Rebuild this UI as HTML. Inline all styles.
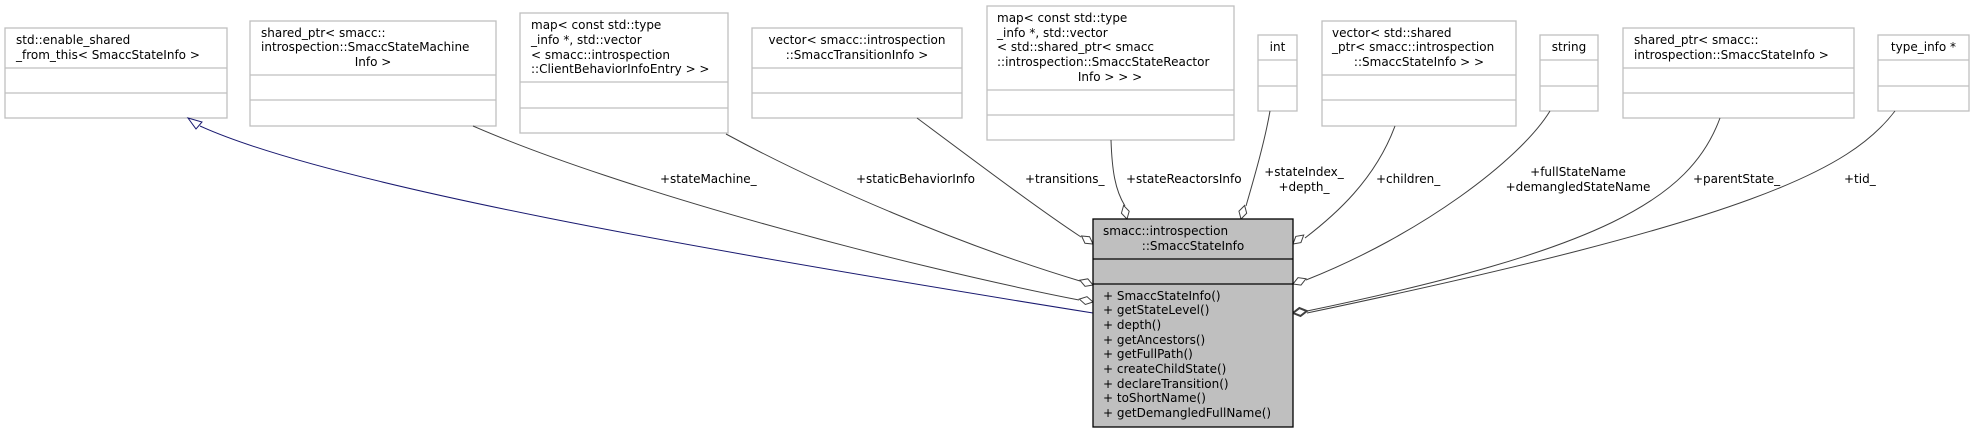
<!DOCTYPE html>
<html><head><meta charset="utf-8"><style>
html,body{margin:0;padding:0;background:#fff;}
svg{display:block;}
text{font-family:"DejaVu Sans","Liberation Sans",sans-serif;font-size:12px;fill:#000;}
.b{fill:#fff;stroke:#bfbfbf;stroke-width:1.3;}
.l{stroke:#bfbfbf;stroke-width:1.3;}
.e{fill:none;stroke:#404040;stroke-width:1;}
.d{fill:#fff;stroke:#404040;stroke-width:1;}
</style></head><body>
<svg width="1975" height="433" viewBox="0 0 1975 433" xmlns="http://www.w3.org/2000/svg">
<!-- Box1 -->
<rect class="b" x="5" y="28" width="222" height="90"/>
<line class="l" x1="5" y1="68" x2="227" y2="68"/><line class="l" x1="5" y1="93" x2="227" y2="93"/>
<text x="16" y="44">std::enable_shared</text>
<text x="16" y="59">_from_this&lt; SmaccStateInfo &gt;</text>
<!-- Box2 -->
<rect class="b" x="250" y="21" width="246" height="105"/>
<line class="l" x1="250" y1="75" x2="496" y2="75"/><line class="l" x1="250" y1="100" x2="496" y2="100"/>
<text x="261" y="37">shared_ptr&lt; smacc::</text>
<text x="261" y="51">introspection::SmaccStateMachine</text>
<text x="373" y="66" text-anchor="middle">Info &gt;</text>
<!-- Box3 -->
<rect class="b" x="520" y="13" width="208" height="120"/>
<line class="l" x1="520" y1="82" x2="728" y2="82"/><line class="l" x1="520" y1="108" x2="728" y2="108"/>
<text x="531" y="29">map&lt; const std::type</text>
<text x="531" y="44">_info *, std::vector</text>
<text x="531" y="59">&lt; smacc::introspection</text>
<text x="531" y="73">::ClientBehaviorInfoEntry &gt; &gt;</text>
<!-- Box4 -->
<rect class="b" x="752" y="28" width="210" height="90"/>
<line class="l" x1="752" y1="68" x2="962" y2="68"/><line class="l" x1="752" y1="93" x2="962" y2="93"/>
<text x="857" y="44" text-anchor="middle">vector&lt; smacc::introspection</text>
<text x="857" y="59" text-anchor="middle">::SmaccTransitionInfo &gt;</text>
<!-- Box5 -->
<rect class="b" x="987" y="6" width="247" height="134"/>
<line class="l" x1="987" y1="90" x2="1234" y2="90"/><line class="l" x1="987" y1="115" x2="1234" y2="115"/>
<text x="997" y="22">map&lt; const std::type</text>
<text x="997" y="37">_info *, std::vector</text>
<text x="997" y="51">&lt; std::shared_ptr&lt; smacc</text>
<text x="997" y="66">::introspection::SmaccStateReactor</text>
<text x="1110" y="81" text-anchor="middle">Info &gt; &gt; &gt;</text>
<!-- int -->
<rect class="b" x="1258" y="35" width="39" height="76"/>
<line class="l" x1="1258" y1="60" x2="1297" y2="60"/><line class="l" x1="1258" y1="86" x2="1297" y2="86"/>
<text x="1277.5" y="51" text-anchor="middle">int</text>
<!-- Box7 -->
<rect class="b" x="1322" y="21" width="194" height="105"/>
<line class="l" x1="1322" y1="75" x2="1516" y2="75"/><line class="l" x1="1322" y1="100" x2="1516" y2="100"/>
<text x="1332" y="37">vector&lt; std::shared</text>
<text x="1332" y="51">_ptr&lt; smacc::introspection</text>
<text x="1419" y="66" text-anchor="middle">::SmaccStateInfo &gt; &gt;</text>
<!-- string -->
<rect class="b" x="1540" y="35" width="58" height="76"/>
<line class="l" x1="1540" y1="60" x2="1598" y2="60"/><line class="l" x1="1540" y1="86" x2="1598" y2="86"/>
<text x="1569" y="51" text-anchor="middle">string</text>
<!-- Box9 -->
<rect class="b" x="1623" y="28" width="231" height="90"/>
<line class="l" x1="1623" y1="68" x2="1854" y2="68"/><line class="l" x1="1623" y1="93" x2="1854" y2="93"/>
<text x="1634" y="44">shared_ptr&lt; smacc::</text>
<text x="1634" y="59">introspection::SmaccStateInfo &gt;</text>
<!-- type_info -->
<rect class="b" x="1878" y="35" width="91" height="76"/>
<line class="l" x1="1878" y1="60" x2="1969" y2="60"/><line class="l" x1="1878" y1="86" x2="1969" y2="86"/>
<text x="1923.5" y="51" text-anchor="middle">type_info *</text>

<!-- Edges -->
<path d="M200,126 C330,185 700,250 1093,313" fill="none" stroke="#191970" stroke-width="1"/>
<polygon points="188,118 202,122 196,129" fill="#fff" stroke="#191970" stroke-width="1"/>
<path class="e" d="M473,126 C620,190 900,265 1079,300"/>
<path class="e" d="M726,134 C820,185 960,245 1080,281"/>
<path class="e" d="M917,118 C980,165 1040,210 1081,237"/>
<path class="e" d="M1111,140 C1112,170 1115,190 1125,206"/>
<path class="e" d="M1270,111 C1265,140 1255,175 1246,206"/>
<path class="e" d="M1395,126 C1375,180 1335,215 1305,238"/>
<path class="e" d="M1550,111 C1520,160 1420,235 1306,280"/>
<path class="e" d="M1720,118 C1690,200 1600,250 1307,311"/>
<path class="e" d="M1895,111 C1850,170 1750,220 1307,313"/>

<!-- diamonds -->
<g class="d">
<polygon transform="translate(1093,244) rotate(35)" points="0,0 -7,-4 -14,0 -7,4"/>
<polygon transform="translate(1093,285) rotate(20)" points="0,0 -7,-4 -14,0 -7,4"/>
<polygon transform="translate(1093,302) rotate(12)" points="0,0 -7,-4 -14,0 -7,4"/>
<polygon transform="translate(1127,219) rotate(76)" points="0,0 -7,-4 -14,0 -7,4"/>
<polygon transform="translate(1241,219) rotate(105)" points="0,0 -7,-4 -14,0 -7,4"/>
<polygon transform="translate(1293,244) rotate(140)" points="0,0 -7,-4 -14,0 -7,4"/>
<polygon transform="translate(1293,284) rotate(158)" points="0,0 -7,-4 -14,0 -7,4"/>
<polygon transform="translate(1293,313) rotate(172)" points="0,0 -7,-4 -14,0 -7,4" stroke-width="2"/>
</g>

<!-- labels -->
<text x="660" y="183">+stateMachine_</text>
<text x="856" y="183">+staticBehaviorInfo</text>
<text x="1025" y="183">+transitions_</text>
<text x="1126" y="183">+stateReactorsInfo</text>
<text x="1304" y="176" text-anchor="middle">+stateIndex_</text>
<text x="1304" y="191" text-anchor="middle">+depth_</text>
<text x="1376" y="183">+children_</text>
<text x="1578" y="176" text-anchor="middle">+fullStateName</text>
<text x="1578" y="191" text-anchor="middle">+demangledStateName</text>
<text x="1693" y="183">+parentState_</text>
<text x="1844" y="183">+tid_</text>

<!-- Main box -->
<rect x="1093" y="219" width="200" height="208" fill="#bfbfbf" stroke="#000" stroke-width="1.3"/>
<line x1="1093" y1="259" x2="1293" y2="259" stroke="#000" stroke-width="1.3"/>
<line x1="1093" y1="284" x2="1293" y2="284" stroke="#000" stroke-width="1.3"/>
<text x="1103" y="235">smacc::introspection</text>
<text x="1193" y="250" text-anchor="middle">::SmaccStateInfo</text>
<text x="1103" y="300">+ SmaccStateInfo()</text>
<text x="1103" y="314">+ getStateLevel()</text>
<text x="1103" y="329">+ depth()</text>
<text x="1103" y="344">+ getAncestors()</text>
<text x="1103" y="358">+ getFullPath()</text>
<text x="1103" y="373">+ createChildState()</text>
<text x="1103" y="388">+ declareTransition()</text>
<text x="1103" y="402">+ toShortName()</text>
<text x="1103" y="417">+ getDemangledFullName()</text>
</svg>
</body></html>
